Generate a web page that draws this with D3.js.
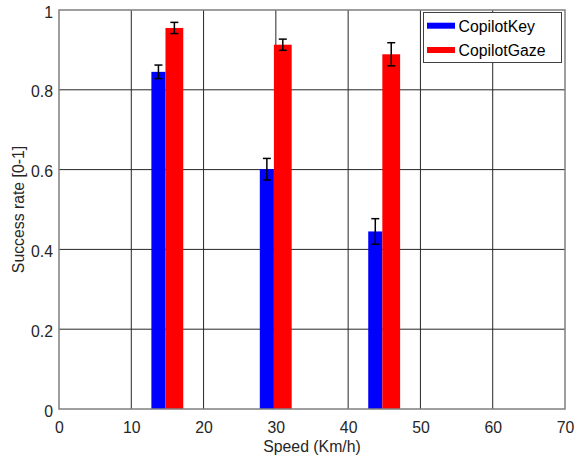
<!DOCTYPE html>
<html>
<head>
<meta charset="utf-8">
<script src="https://cdn.jsdelivr.net/npm/d3@7"></script>
<style>
  html, body { margin: 0; padding: 0; background: #fff; }
  svg { display: block; font-family: "Liberation Sans", Arial, sans-serif; }
</style>
</head>
<body>
<svg id="chart" width="574" height="455"></svg>
<script>
// ---- data ----
const speeds = [15, 30, 45];
const seriesNames = ["CopilotKey", "CopilotGaze"];
const copilotKey = [0.845, 0.601, 0.445];
const copilotKeyErr = [0.017, 0.027, 0.032];
const copilotGaze = [0.955, 0.913, 0.889];
const copilotGazeErr = [0.014, 0.014, 0.029];
const xTicks = [0, 10, 20, 30, 40, 50, 60, 70];
const yTicks = [0, 0.2, 0.4, 0.6, 0.8, 1];
const yTickLabels = ["0", "0.2", "0.4", "0.6", "0.8", "1"];

const colors = ["#0000ff", "#ff0000"];

const svg = d3.select("#chart");
const pL = 59, pR = 565, pT = 10, pB = 409;
const fs = 15.8;

const x = d3.scaleLinear().domain([0, 70]).range([pL, pR]);
const y = d3.scaleLinear().domain([0, 1]).range([pB, pT]);

// grid
const grid = svg.append("g");
grid.selectAll(".gx").data(xTicks.slice(1, -1)).enter().append("line")
  .attr("x1", d => x(d)).attr("x2", d => x(d))
  .attr("y1", pT).attr("y2", pB)
  .attr("stroke", "#262626").attr("stroke-width", 1);
grid.selectAll(".gy").data(yTicks.slice(1, -1)).enter().append("line")
  .attr("y1", d => y(d)).attr("y2", d => y(d))
  .attr("x1", pL).attr("x2", pR)
  .attr("stroke", "#262626").attr("stroke-width", 1);

// bars (blue then red, red slightly overlapping)
const series = [
  { vals: copilotKey, err: copilotKeyErr, x0: -2.22, x1: -0.27, color: colors[0] },
  { vals: copilotGaze, err: copilotGazeErr, x0: -0.27, x1: 2.19, color: colors[1] }
];
series.forEach(s => {
  svg.append("g").selectAll("rect").data(speeds).enter().append("rect")
    .attr("x", d => x(d + s.x0))
    .attr("width", d => x(d + s.x1) - x(d + s.x0))
    .attr("y", (d, i) => y(s.vals[i]))
    .attr("height", (d, i) => y(0) - y(s.vals[i]))
    .attr("fill", s.color);
});
// error bars
series.forEach(s => {
  const g = svg.append("g").attr("stroke", "#000").attr("stroke-width", 1.5).attr("fill", "none");
  speeds.forEach((d, i) => {
    const cx = x(d + (s.x0 + s.x1) / 2);
    const yt = y(s.vals[i] + s.err[i]);
    const yb = y(s.vals[i] - s.err[i]);
    g.append("line").attr("x1", cx).attr("x2", cx).attr("y1", yt).attr("y2", yb);
    g.append("line").attr("x1", cx - 4).attr("x2", cx + 4).attr("y1", yt).attr("y2", yt);
    g.append("line").attr("x1", cx - 4).attr("x2", cx + 4).attr("y1", yb).attr("y2", yb);
  });
});

// axes box
svg.append("rect").attr("x", pL).attr("y", pT)
  .attr("width", pR - pL).attr("height", pB - pT)
  .attr("fill", "none").attr("stroke", "#7f7f7f").attr("stroke-width", 1.5);

// tick labels
const xAxis = d3.axisBottom(x).tickValues(xTicks).tickSize(0).tickPadding(0);
const gx = svg.append("g").attr("transform", `translate(0,${pB})`).call(xAxis);
gx.select(".domain").remove();
gx.selectAll("text").attr("font-size", fs).attr("font-family", "Liberation Sans, Arial, sans-serif")
  .attr("fill", "#262626").attr("dy", null).attr("y", 23.5);

const yAxis = d3.axisLeft(y).tickValues(yTicks).tickFormat((d, i) => yTickLabels[i]).tickSize(0).tickPadding(0);
const gy = svg.append("g").attr("transform", `translate(${pL},0)`).call(yAxis);
gy.select(".domain").remove();
gy.selectAll("text").attr("font-size", fs).attr("font-family", "Liberation Sans, Arial, sans-serif")
  .attr("fill", "#262626").attr("x", -6).attr("dy", "0.45em");

// axis labels
svg.append("text").attr("x", (pL + pR) / 2).attr("y", 452)
  .attr("text-anchor", "middle").attr("font-size", fs).attr("fill", "#262626")
  .text("Speed (Km/h)");
svg.append("text").attr("transform", `translate(24,${(pT + pB) / 2}) rotate(-90)`)
  .attr("text-anchor", "middle").attr("font-size", fs).attr("fill", "#262626")
  .text("Success rate [0-1]");

// legend
const lg = svg.append("g");
lg.append("rect").attr("x", 423.5).attr("y", 12.5).attr("width", 138).attr("height", 50)
  .attr("fill", "#fff").attr("stroke", "#404040").attr("stroke-width", 1);
seriesNames.forEach((n, i) => {
  const yy = 25.7 + i * 24.3;
  lg.append("line").attr("x1", 427).attr("x2", 455).attr("y1", yy).attr("y2", yy)
    .attr("stroke", colors[i]).attr("stroke-width", 6);
  lg.append("text").attr("x", 458.5).attr("y", yy + 6).attr("font-size", fs).attr("fill", "#000")
    .text(n);
});
</script>
</body>
</html>
